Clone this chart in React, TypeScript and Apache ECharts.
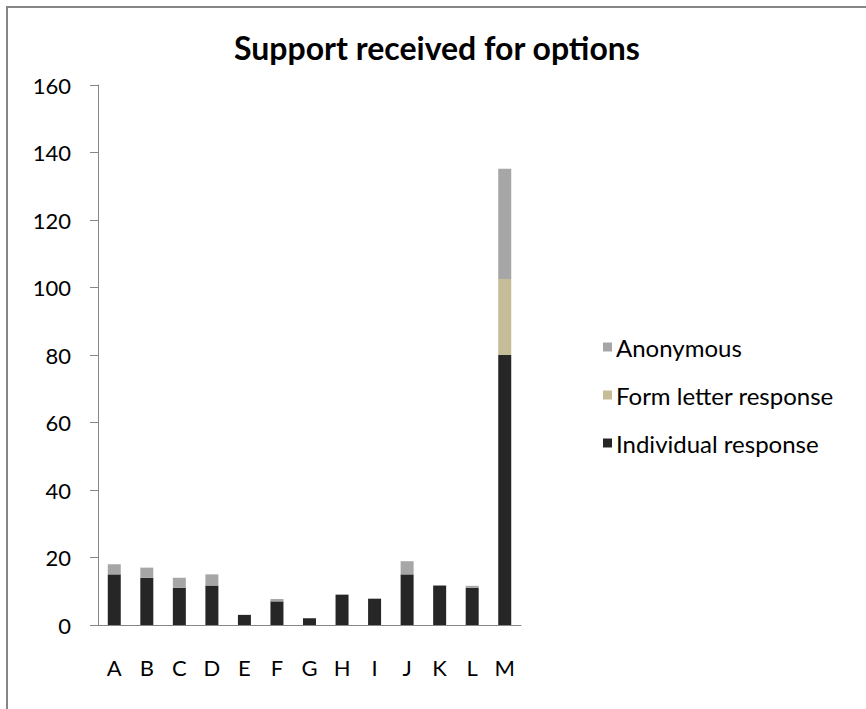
import React, { useEffect, useRef } from "react";
import * as echarts from "echarts";

// Options A–M and the support each received, split by response type
const categories = ["A", "B", "C", "D", "E", "F", "G", "H", "I", "J", "K", "L", "M"];
const individualResponse = [15, 14, 11, 11.7, 3, 7, 2, 9, 7.8, 15, 11.7, 11, 80];
const formLetterResponse = [0, 0, 0, 0, 0, 0, 0, 0, 0, 0, 0, 0, 22.5];
const anonymous = [3, 3, 3, 3.3, 0, 0.7, 0, 0, 0, 3.9, 0, 0.6, 32.7];
const yTicks = { min: 0, max: 160, interval: 20 };

const FONT = "Lato";
const AXIS_GREY = "#868686";

export default function App() {
  const ref = useRef<HTMLDivElement>(null);

  useEffect(() => {
    if (!ref.current) return;
    const chart = echarts.init(ref.current, null, { renderer: "svg" });
    const barBase = {
      type: "bar" as const,
      stack: "support",
      barWidth: 13,
    };
    chart.setOption({
      animation: false,
      textStyle: { fontFamily: FONT },
      title: {
        text: "Support received for options",
        left: "center",
        top: 18,
        textStyle: { fontFamily: FONT, fontSize: 32, fontWeight: "bold", color: "#000" },
      },
      legend: {
        orient: "vertical",
        left: 590,
        top: 322,
        itemWidth: 9,
        itemHeight: 9,
        itemGap: 24,
        icon: "rect",
        data: ["Anonymous", "Form letter response", "Individual response"],
        textStyle: { fontFamily: FONT, fontSize: 24, color: "#000", lineHeight: 24, padding: [0, 0, 0, -1] },
      },
      grid: { left: 90, top: 77, width: 423, height: 540 },
      xAxis: {
        type: "category",
        data: categories,
        axisLine: { lineStyle: { color: AXIS_GREY, width: 1 } },
        axisTick: { length: 8, lineStyle: { color: AXIS_GREY } },
        axisLabel: { fontFamily: FONT, fontSize: 22, color: "#000", margin: 31 },
      },
      yAxis: {
        type: "value",
        min: yTicks.min,
        max: yTicks.max,
        interval: yTicks.interval,
        axisLine: { show: true, lineStyle: { color: AXIS_GREY, width: 1 } },
        axisTick: { show: true, length: 8, lineStyle: { color: AXIS_GREY } },
        splitLine: { show: false },
        axisLabel: { fontFamily: FONT, fontSize: 22, color: "#000", margin: 27 },
      },
      series: [
        { ...barBase, name: "Individual response", data: individualResponse, itemStyle: { color: "#262626" } },
        { ...barBase, name: "Form letter response", data: formLetterResponse, itemStyle: { color: "#C4BD97" } },
        { ...barBase, name: "Anonymous", data: anonymous, itemStyle: { color: "#A6A6A6" } },
      ],
    });
    return () => chart.dispose();
  }, []);

  return (
    <div
      style={{
        position: "absolute",
        left: 6,
        top: 6,
        width: 860,
        height: 703,
        boxSizing: "border-box",
        borderTop: `2px solid ${AXIS_GREY}`,
        borderLeft: `2px solid ${AXIS_GREY}`,
        background: "#fff",
      }}
    >
      <div ref={ref} style={{ width: 858, height: 701 }} />
    </div>
  );
}
